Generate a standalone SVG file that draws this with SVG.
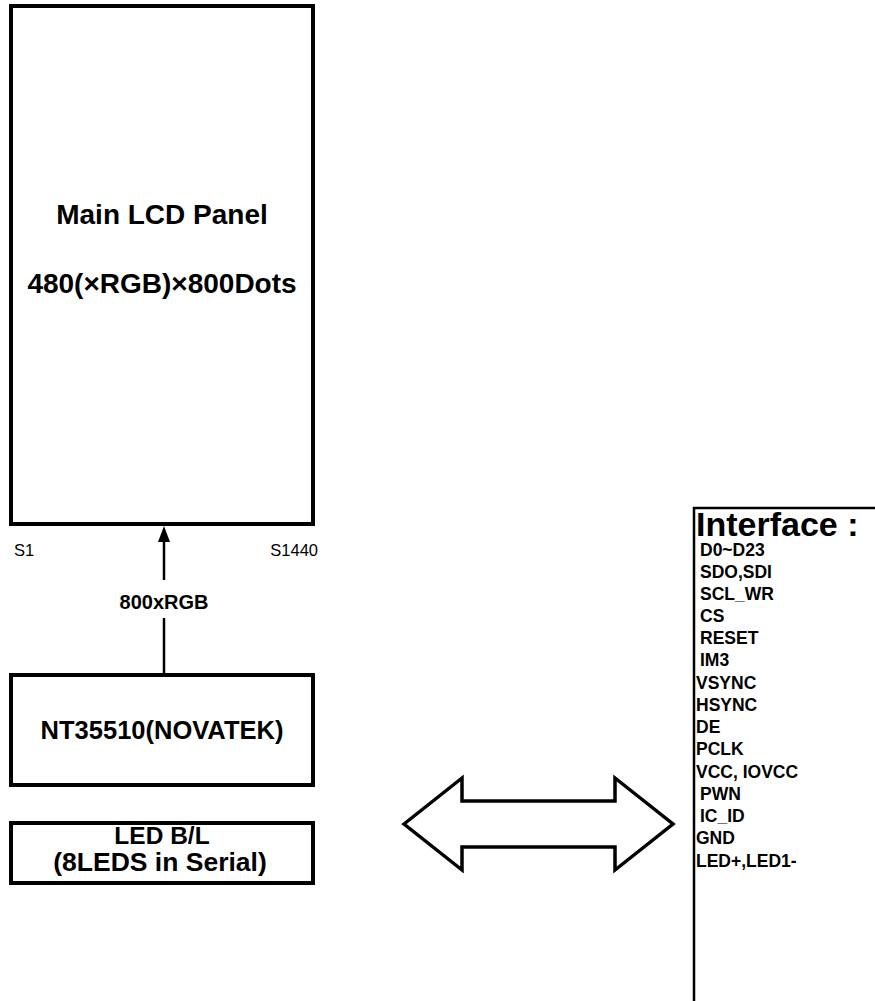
<svg xmlns="http://www.w3.org/2000/svg" width="875" height="1001" viewBox="0 0 875 1001">
<style>
.box{fill:#fff;stroke:#000;stroke-width:4}
.t{font-family:"Liberation Sans",Arial,sans-serif;font-weight:bold;fill:#000}
.r{font-family:"Liberation Sans",Arial,sans-serif;fill:#000}
.ln{stroke:#000;stroke-width:2.5;fill:none}
.it{font-family:"Liberation Sans",Arial,sans-serif;font-weight:bold;font-size:17.5px;fill:#000}
</style>
<rect width="875" height="1001" fill="#fff"/>
<g id="panel">
<rect class="box" x="11" y="6" width="302" height="518"/>
<text class="t" x="162" y="224" font-size="28" text-anchor="middle">Main LCD Panel</text>
<text class="t" x="162" y="293" font-size="28" text-anchor="middle">480(×RGB)×800Dots</text>
<text class="r" x="14" y="556" font-size="16.5">S1</text>
<text class="r" x="318" y="556" font-size="16.5" text-anchor="end">S1440</text>
</g>
<g id="driver">
<rect class="box" x="11" y="675" width="302" height="110"/>
<text class="t" x="162" y="739" font-size="25.5" text-anchor="middle">NT35510(NOVATEK)</text>
</g>
<g id="backlight">
<rect class="box" x="11" y="823" width="302" height="60"/>
<text class="t" x="162" y="844" font-size="24.5" text-anchor="middle">LED B/L</text>
<text class="t" x="160" y="871" font-size="26.5" text-anchor="middle">(8LEDS in Serial)</text>
</g>
<g id="connectors">
<line class="ln" x1="164" y1="580" x2="164" y2="540"/>
<polygon points="164,526 158,542 170,542" fill="#000"/>
<line class="ln" x1="164" y1="618" x2="164" y2="675"/>
<text class="t" x="164" y="609" font-size="20" text-anchor="middle">800xRGB</text>
<polygon points="404,824 462,778 462,801 615,801 615,778 673,824 615,870 615,847 462,847 462,870" fill="#fff" stroke="#000" stroke-width="3.5" stroke-linejoin="miter"/>
</g>
<g id="interface">
<rect x="694" y="508" width="200" height="520" fill="#fff" stroke="#000" stroke-width="2.5"/>
<text class="t" x="696" y="536" font-size="34">Interface :</text>
<text class="it" x="700" y="556">D0~D23</text>
<text class="it" x="700" y="578">SDO,SDI</text>
<text class="it" x="700" y="600">SCL_WR</text>
<text class="it" x="700" y="622">CS</text>
<text class="it" x="700" y="644">RESET</text>
<text class="it" x="700" y="666">IM3</text>
<text class="it" x="696" y="689">VSYNC</text>
<text class="it" x="696" y="711">HSYNC</text>
<text class="it" x="696" y="733">DE</text>
<text class="it" x="696" y="755">PCLK</text>
<text class="it" x="696" y="778">VCC, IOVCC</text>
<text class="it" x="700" y="800">PWN</text>
<text class="it" x="700" y="822">IC_ID</text>
<text class="it" x="696" y="844">GND</text>
<text class="it" x="696" y="867">LED+,LED1-</text>
</g>
</svg>
